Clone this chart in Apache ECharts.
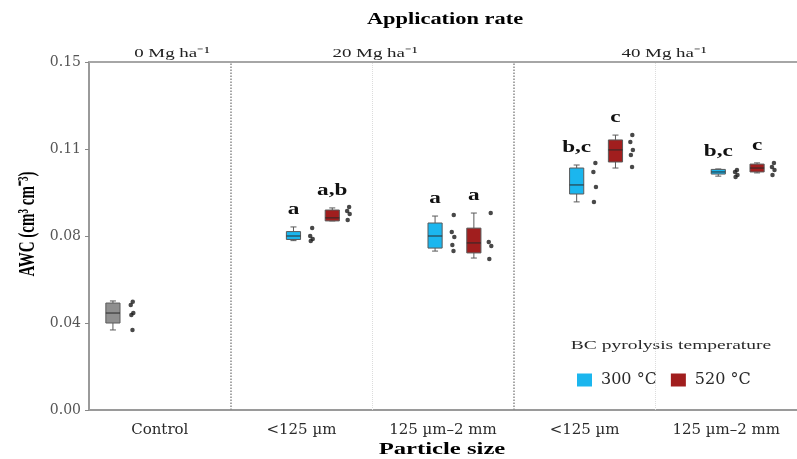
<!DOCTYPE html>
<html><head><meta charset="utf-8">
<script src="https://cdn.jsdelivr.net/npm/echarts@6/dist/echarts.min.js"></script>
<style>html,body{margin:0;padding:0;background:#fff}#c{width:797px;height:459px}</style>
</head><body><div id="c"></div>
<script>
// ---------------- data ----------------
const categories = ['Control', '<125 µm', '125 µm–2 mm', '<125 µm', '125 µm–2 mm'];
const rateLabels = ['0 Mg ha⁻¹', '20 Mg ha⁻¹', '40 Mg ha⁻¹'];
const yTickLabels = ['0.00', '0.04', '0.08', '0.11', '0.15'];
const seriesNames = ['300 °C', '520 °C'];
// box stats: [category index, low, Q1, median, Q3, high]
const boxControl = [[0, 0.0345, 0.0375, 0.0418, 0.0461, 0.0470]];
const box300 = [
  [1, 0.0730, 0.0735, 0.0750, 0.0769, 0.0789],
  [2, 0.0685, 0.0698, 0.0750, 0.0806, 0.0836],
  [3, 0.0897, 0.0931, 0.0970, 0.1043, 0.1056],
  [4, 0.1008, 0.1017, 0.1026, 0.1037, 0.1039]
];
const box520 = [
  [1, 0.0815, 0.0815, 0.0828, 0.0862, 0.0871],
  [2, 0.0655, 0.0677, 0.0720, 0.0784, 0.0849],
  [3, 0.1043, 0.1069, 0.1121, 0.1164, 0.1185],
  [4, 0.1022, 0.1026, 0.1043, 0.1060, 0.1065]
];
// raw replicate values per category
const ptsControl = [[0.0467, 0.0453, 0.0418, 0.0409, 0.0345], [], [], [], []];
const pts300 = [[], [0.0784, 0.0750, 0.0737, 0.0728], [0.0841, 0.0767, 0.0746, 0.0711, 0.0685],
  [0.1065, 0.1026, 0.0961, 0.0897], [0.1034, 0.1026, 0.1013, 0.1004]];
const pts520 = [[], [0.0875, 0.0858, 0.0845, 0.0819], [0.0849, 0.0724, 0.0707, 0.0651],
  [0.1185, 0.1155, 0.1121, 0.1099, 0.1047], [0.1065, 0.1047, 0.1034, 0.1013]];
const letters300 = ['', 'a', 'a', 'b,c', 'b,c'];
const letters520 = ['', 'a,b', 'a', 'c', 'c'];

// ---------------- layout / style ----------------
const OFF = { ctl: -0.331, ctlPts: -0.197, b300: -0.056, p300: 0.07, b520: 0.218, p520: 0.331 };
const JIT = [0.006, -0.008, 0.01, -0.004, 0.004];
const BOX_W = 0.1;
const C300 = '#1BB6EE', C520 = '#A11E1E', CCTL = '#8f8f8f', OUT = '#5a5a5a';
const SERIF = '"Liberation Serif", "Times New Roman", serif';
const NSERIF = '"DejaVu Serif", serif';

function boxRender(color, offset, letters) {
  return function (params, api) {
    const ci = api.value(0);
    const x = ci + 0.5 + offset;
    const w = api.size([BOX_W, 0])[0];
    const pL = api.coord([x, api.value(1)]);
    const p1 = api.coord([x, api.value(2)]);
    const pM = api.coord([x, api.value(3)]);
    const p3 = api.coord([x, api.value(4)]);
    const pH = api.coord([x, api.value(5)]);
    const cx = pL[0];
    const ln = { stroke: OUT, lineWidth: 1 };
    const children = [
      { type: 'line', shape: { x1: cx, y1: p3[1], x2: cx, y2: pH[1] }, style: ln },
      { type: 'line', shape: { x1: cx, y1: p1[1], x2: cx, y2: pL[1] }, style: ln },
      { type: 'line', shape: { x1: cx - 3, y1: pH[1], x2: cx + 3, y2: pH[1] }, style: ln },
      { type: 'line', shape: { x1: cx - 3, y1: pL[1], x2: cx + 3, y2: pL[1] }, style: ln },
      { type: 'rect', shape: { x: cx - w / 2, y: p3[1], width: w, height: Math.max(p1[1] - p3[1], 2) },
        style: { fill: color, stroke: OUT, lineWidth: 1 } },
      { type: 'line', shape: { x1: cx - w / 2, y1: pM[1], x2: cx + w / 2, y2: pM[1] }, style: { stroke: '#2a2a2a', lineWidth: 1 } }
    ];
    const lt = letters && letters[ci];
    if (lt) {
      children.push({ type: 'text', x: cx, y: pH[1] - 17, scaleX: 1.45,
        style: { text: lt, fill: '#111', font: 'bold 16px ' + SERIF, textAlign: 'center', textVerticalAlign: 'middle' } });
    }
    return { type: 'group', children };
  };
}

function ptsData(arr, offset) {
  const out = [];
  arr.forEach((vals, ci) => vals.forEach((v, j) => out.push([ci + 0.5 + offset + JIT[j % JIT.length], v])));
  return out;
}

const chart = echarts.init(document.getElementById('c'), null, { renderer: 'canvas' });
const option = {
  animation: false,
  backgroundColor: '#fff',
  grid: { left: 89, top: 62, width: 710, height: 348 },
  xAxis: [
    { type: 'category', data: categories, position: 'bottom',
      axisLine: { lineStyle: { color: '#9a9a9a', width: 2 } },
      axisTick: { alignWithLabel: true, length: 4, lineStyle: { color: '#888' } },
      axisLabel: { color: '#2a2a2a', fontFamily: NSERIF, fontSize: 15, margin: 13 },
      splitLine: { show: false } },
    { type: 'value', min: 0, max: 5, position: 'top',
      axisLine: { show: true, onZero: false, lineStyle: { color: '#a6a6a6', width: 2 } },
      axisTick: { show: false }, axisLabel: { show: false }, splitLine: { show: false } }
  ],
  yAxis: { type: 'value', min: 0, max: 0.15, interval: 0.0375,
    axisLine: { show: true, lineStyle: { color: '#9a9a9a', width: 2 } },
    axisTick: { show: true, length: 4, lineStyle: { color: '#888' } },
    axisLabel: { color: '#555', fontFamily: NSERIF, fontSize: 14, margin: 8,
      formatter: v => yTickLabels[Math.round(v / 0.0375)] },
    splitLine: { show: false } },
  legend: { data: seriesNames, left: 572, top: 367, icon: 'rect', itemWidth: 15, itemHeight: 13, itemGap: 14,
    selectedMode: false, textStyle: { fontFamily: NSERIF, fontSize: 16, color: '#2a2a2a', padding: [0, 0, 0, 4] } },
  series: [
    { type: 'scatter', name: 'sep', xAxisIndex: 1, data: [], silent: true,
      markLine: { silent: true, symbol: ['none', 'none'], label: { show: false },
        lineStyle: { color: '#8a8a8a', type: 'dotted', width: 1.5 },
        data: [{ xAxis: 1 }, { xAxis: 3 }] } },
    { type: 'scatter', name: 'sep2', xAxisIndex: 1, data: [], silent: true,
      markLine: { silent: true, symbol: ['none', 'none'], label: { show: false },
        lineStyle: { color: '#dcdcdc', type: 'dotted', width: 1 },
        data: [{ xAxis: 2 }, { xAxis: 4 }] } },
    { type: 'custom', name: 'Control', xAxisIndex: 1, data: boxControl, itemStyle: { color: CCTL },
      renderItem: boxRender(CCTL, OFF.ctl, null), encode: { x: 0, y: [1, 5] } },
    { type: 'custom', name: seriesNames[0], xAxisIndex: 1, data: box300, itemStyle: { color: C300 },
      renderItem: boxRender(C300, OFF.b300, letters300), encode: { x: 0, y: [1, 5] } },
    { type: 'custom', name: seriesNames[1], xAxisIndex: 1, data: box520, itemStyle: { color: C520 },
      renderItem: boxRender(C520, OFF.b520, letters520), encode: { x: 0, y: [1, 5] } },
    { type: 'scatter', name: 'ptsCtl', xAxisIndex: 1, symbolSize: 4.5, itemStyle: { color: '#1a1a1a' },
      data: ptsData(ptsControl, OFF.ctlPts) },
    { type: 'scatter', name: 'pts300', xAxisIndex: 1, symbolSize: 4.5, itemStyle: { color: '#1a1a1a' },
      data: ptsData(pts300, OFF.p300) },
    { type: 'scatter', name: 'pts520', xAxisIndex: 1, symbolSize: 4.5, itemStyle: { color: '#1a1a1a' },
      data: ptsData(pts520, OFF.p520) }
  ],
  graphic: [
    { type: 'text', x: 445, y: 20, scaleX: 1.4,
      style: { text: 'Application rate', fill: '#000', font: 'bold 16px ' + SERIF, textAlign: 'center', textVerticalAlign: 'middle' } },
    { type: 'text', x: 172, y: 53, scaleX: 1.4,
      style: { text: rateLabels[0], fill: '#222', font: '13.5px ' + SERIF, textAlign: 'center', textVerticalAlign: 'middle' } },
    { type: 'text', x: 375, y: 53, scaleX: 1.4,
      style: { text: rateLabels[1], fill: '#222', font: '13.5px ' + SERIF, textAlign: 'center', textVerticalAlign: 'middle' } },
    { type: 'text', x: 664, y: 53, scaleX: 1.4,
      style: { text: rateLabels[2], fill: '#222', font: '13.5px ' + SERIF, textAlign: 'center', textVerticalAlign: 'middle' } },
    { type: 'text', x: 28, y: 224, rotation: Math.PI / 2, scaleY: 1.6,
      style: { text: 'AWC (cm³ cm⁻³)', fill: '#000', font: 'bold 15px ' + SERIF, textAlign: 'center', textVerticalAlign: 'middle' } },
    { type: 'text', x: 442, y: 450, scaleX: 1.45,
      style: { text: 'Particle size', fill: '#000', font: 'bold 17px ' + SERIF, textAlign: 'center', textVerticalAlign: 'middle' } },
    { type: 'text', x: 671, y: 346, scaleX: 1.5,
      style: { text: 'BC pyrolysis temperature', fill: '#2a2a2a', font: '13px ' + SERIF, textAlign: 'center', textVerticalAlign: 'middle' } }
  ]
};
chart.setOption(option);
</script>
</body></html>
